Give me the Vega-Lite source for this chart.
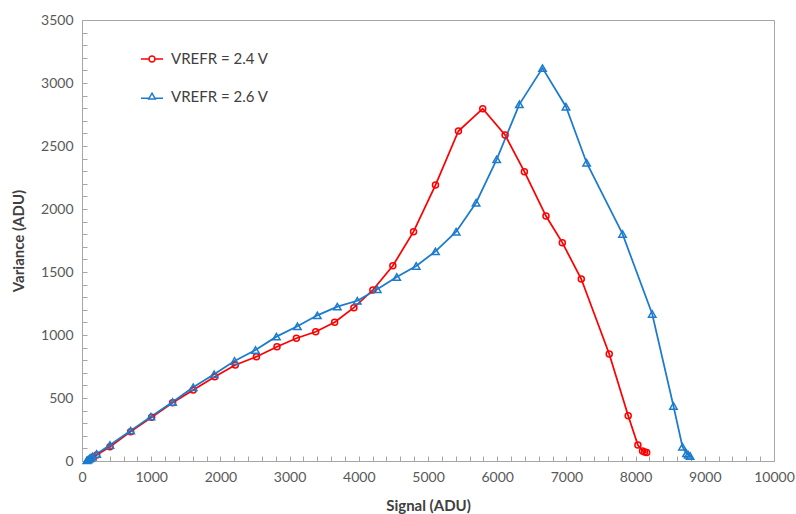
{
  "$schema": "https://vega.github.io/schema/vega-lite/v6.json",
  "width": 692,
  "height": 441,
  "autosize": {"type": "none"},
  "padding": {"left": 82, "top": 20, "right": 22, "bottom": 53},
  "background": "white",
  "config": {
    "font": "Lato",
    "view": {"stroke": "#A6A6A6", "strokeWidth": 1},
    "axis": {
      "grid": false,
      "domainColor": "#A6A6A6",
      "tickColor": "#A6A6A6",
      "labelColor": "#595959",
      "labelFontSize": 14,
      "titleFontSize": 14,
      "titleFontWeight": "bold",
      "titleColor": "#404040",
      "labelFont": "Lato",
      "titleFont": "Lato"
    },
    "legend": {
      "symbolSize": 484,
      "symbolStrokeWidth": 1.5,
      "symbolFillColor": "transparent",
      "rowPadding": 18,
      "labelFontSize": 15,
      "labelColor": "#404040",
      "labelFont": "Lato",
      "labelOffset": 7
    }
  },
  "data": {
    "values": [
      {"series": "VREFR = 2.4 V", "signal": 110, "variance": 10},
      {"series": "VREFR = 2.4 V", "signal": 150, "variance": 25},
      {"series": "VREFR = 2.4 V", "signal": 212, "variance": 48},
      {"series": "VREFR = 2.4 V", "signal": 404, "variance": 113},
      {"series": "VREFR = 2.4 V", "signal": 703, "variance": 233},
      {"series": "VREFR = 2.4 V", "signal": 1006, "variance": 347},
      {"series": "VREFR = 2.4 V", "signal": 1309, "variance": 463},
      {"series": "VREFR = 2.4 V", "signal": 1607, "variance": 563},
      {"series": "VREFR = 2.4 V", "signal": 1919, "variance": 669},
      {"series": "VREFR = 2.4 V", "signal": 2215, "variance": 762},
      {"series": "VREFR = 2.4 V", "signal": 2521, "variance": 828},
      {"series": "VREFR = 2.4 V", "signal": 2818, "variance": 907},
      {"series": "VREFR = 2.4 V", "signal": 3098, "variance": 974},
      {"series": "VREFR = 2.4 V", "signal": 3377, "variance": 1026},
      {"series": "VREFR = 2.4 V", "signal": 3651, "variance": 1101},
      {"series": "VREFR = 2.4 V", "signal": 3929, "variance": 1217},
      {"series": "VREFR = 2.4 V", "signal": 4203, "variance": 1357},
      {"series": "VREFR = 2.4 V", "signal": 4492, "variance": 1550},
      {"series": "VREFR = 2.4 V", "signal": 4791, "variance": 1820},
      {"series": "VREFR = 2.4 V", "signal": 5108, "variance": 2190},
      {"series": "VREFR = 2.4 V", "signal": 5440, "variance": 2619},
      {"series": "VREFR = 2.4 V", "signal": 5791, "variance": 2796},
      {"series": "VREFR = 2.4 V", "signal": 6114, "variance": 2587},
      {"series": "VREFR = 2.4 V", "signal": 6393, "variance": 2296},
      {"series": "VREFR = 2.4 V", "signal": 6705, "variance": 1944},
      {"series": "VREFR = 2.4 V", "signal": 6941, "variance": 1733},
      {"series": "VREFR = 2.4 V", "signal": 7215, "variance": 1444},
      {"series": "VREFR = 2.4 V", "signal": 7619, "variance": 849},
      {"series": "VREFR = 2.4 V", "signal": 7893, "variance": 360},
      {"series": "VREFR = 2.4 V", "signal": 8033, "variance": 127},
      {"series": "VREFR = 2.4 V", "signal": 8100, "variance": 80},
      {"series": "VREFR = 2.4 V", "signal": 8130, "variance": 72},
      {"series": "VREFR = 2.4 V", "signal": 8160, "variance": 68},
      {"series": "VREFR = 2.6 V", "signal": 70, "variance": 5},
      {"series": "VREFR = 2.6 V", "signal": 90, "variance": 12},
      {"series": "VREFR = 2.6 V", "signal": 110, "variance": 20},
      {"series": "VREFR = 2.6 V", "signal": 130, "variance": 28},
      {"series": "VREFR = 2.6 V", "signal": 150, "variance": 36},
      {"series": "VREFR = 2.6 V", "signal": 212, "variance": 56},
      {"series": "VREFR = 2.6 V", "signal": 404, "variance": 127},
      {"series": "VREFR = 2.6 V", "signal": 703, "variance": 241},
      {"series": "VREFR = 2.6 V", "signal": 996, "variance": 352},
      {"series": "VREFR = 2.6 V", "signal": 1309, "variance": 468},
      {"series": "VREFR = 2.6 V", "signal": 1607, "variance": 585},
      {"series": "VREFR = 2.6 V", "signal": 1909, "variance": 688},
      {"series": "VREFR = 2.6 V", "signal": 2205, "variance": 794},
      {"series": "VREFR = 2.6 V", "signal": 2507, "variance": 881},
      {"series": "VREFR = 2.6 V", "signal": 2810, "variance": 987},
      {"series": "VREFR = 2.6 V", "signal": 3113, "variance": 1069},
      {"series": "VREFR = 2.6 V", "signal": 3401, "variance": 1156},
      {"series": "VREFR = 2.6 V", "signal": 3690, "variance": 1225},
      {"series": "VREFR = 2.6 V", "signal": 3978, "variance": 1272},
      {"series": "VREFR = 2.6 V", "signal": 4267, "variance": 1363},
      {"series": "VREFR = 2.6 V", "signal": 4548, "variance": 1460},
      {"series": "VREFR = 2.6 V", "signal": 4830, "variance": 1548},
      {"series": "VREFR = 2.6 V", "signal": 5108, "variance": 1664},
      {"series": "VREFR = 2.6 V", "signal": 5407, "variance": 1820},
      {"series": "VREFR = 2.6 V", "signal": 5695, "variance": 2050},
      {"series": "VREFR = 2.6 V", "signal": 5993, "variance": 2394},
      {"series": "VREFR = 2.6 V", "signal": 6320, "variance": 2831},
      {"series": "VREFR = 2.6 V", "signal": 6655, "variance": 3118},
      {"series": "VREFR = 2.6 V", "signal": 6994, "variance": 2812},
      {"series": "VREFR = 2.6 V", "signal": 7292, "variance": 2367},
      {"series": "VREFR = 2.6 V", "signal": 7811, "variance": 1802},
      {"series": "VREFR = 2.6 V", "signal": 8240, "variance": 1167},
      {"series": "VREFR = 2.6 V", "signal": 8547, "variance": 437},
      {"series": "VREFR = 2.6 V", "signal": 8677, "variance": 113},
      {"series": "VREFR = 2.6 V", "signal": 8735, "variance": 61},
      {"series": "VREFR = 2.6 V", "signal": 8760, "variance": 50},
      {"series": "VREFR = 2.6 V", "signal": 8788, "variance": 40}
    ]
  },
  "encoding": {
    "x": {
      "field": "signal",
      "type": "quantitative",
      "scale": {"domain": [0, 10000], "nice": false, "zero": true},
      "axis": {
        "title": "Signal (ADU)",
        "values": [0,200,400,600,800,1000,1200,1400,1600,1800,2000,2200,2400,2600,2800,3000,3200,3400,3600,3800,4000,4200,4400,4600,4800,5000,5200,5400,5600,5800,6000,6200,6400,6600,6800,7000,7200,7400,7600,7800,8000,8200,8400,8600,8800,9000,9200,9400,9600,9800,10000],
        "format": "d",
        "labelExpr": "datum.value % 1000 === 0 ? datum.label : ''",
        "tickSize": -5,
        "labelPadding": 14,
        "labelFlush": false,
        "labelOverlap": false,
        "titlePadding": 14,
        "titleFontSize": 15
      }
    },
    "y": {
      "field": "variance",
      "type": "quantitative",
      "scale": {"domain": [0, 3500], "nice": false},
      "axis": {
        "title": "Variance (ADU)",
        "values": [0,100,200,300,400,500,600,700,800,900,1000,1100,1200,1300,1400,1500,1600,1700,1800,1900,2000,2100,2200,2300,2400,2500,2600,2700,2800,2900,3000,3100,3200,3300,3400,3500],
        "format": "d",
        "labelExpr": "datum.value % 500 === 0 ? datum.label : ''",
        "tickSize": -5,
        "labelPadding": 14,
        "labelFlush": false,
        "labelOverlap": false,
        "titlePadding": 14,
        "titleFontSize": 15
      }
    },
    "color": {
      "field": "series",
      "type": "nominal",
      "scale": {"domain": ["VREFR = 2.4 V", "VREFR = 2.6 V"], "range": ["#FF0000", "#1B7BCD"]},
      "legend": {
        "orient": "none",
        "legendX": 58,
        "legendY": 27,
        "title": null,
        "encode": {
          "symbols": {
            "update": {
              "shape": {"signal": "datum.value === 'VREFR = 2.4 V' ? 'M-1,0L-0.27,0M0.27,0L1,0M-0.27,0A0.27,0.27 0 1,1 0.27,0A0.27,0.27 0 1,1 -0.27,0' : 'M-1,0.12L-0.3,0.12M0.3,0.12L1,0.12M0,-0.35L0.3,0.18L-0.3,0.18Z'"},
              "fill": {"value": "transparent"},
              "strokeWidth": {"value": 1.5}
            }
          }
        }
      }
    }
  },
  "layer": [
    {
      "mark": {"type": "line", "strokeWidth": 1.75},
      "encoding": {
        "order": {"field": "signal", "type": "quantitative"}
      }
    },
    {
      "transform": [{"filter": "datum.series === 'VREFR = 2.4 V'"}],
      "mark": {"type": "point", "shape": "circle", "filled": false, "strokeWidth": 1.5, "opacity": 1, "size": 36}
    },
    {
      "transform": [{"filter": "datum.series === 'VREFR = 2.6 V'"}],
      "mark": {"type": "point", "shape": "triangle-up", "filled": false, "strokeWidth": 1.5, "opacity": 1, "size": 55}
    }
  ]
}
